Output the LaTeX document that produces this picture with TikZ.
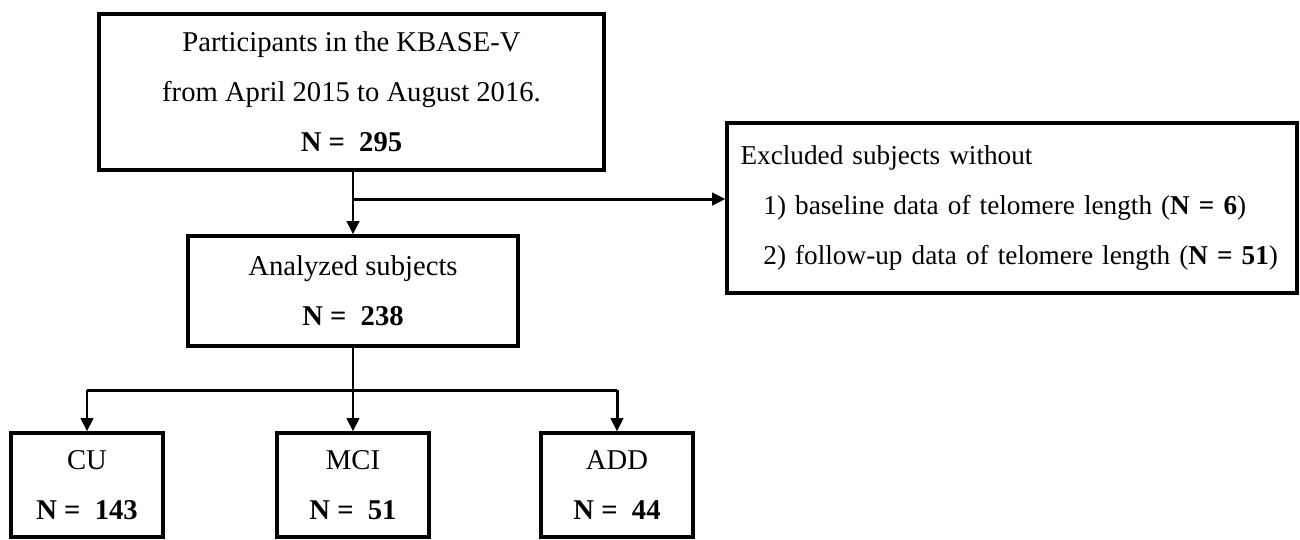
\documentclass[tikz,border=0pt]{standalone}
\usepackage{fontspec}
\setmainfont{Liberation Serif}
\usepackage{tikz}
\usetikzlibrary{arrows.meta,calc,positioning}

\begin{document}
\begin{tikzpicture}[>={Triangle[length=7.5pt,width=7pt]},x=0.02cm,y=-0.02cm,
    box/.style={draw,line width=1.9pt,align=center,inner sep=0pt,
      font=\fontsize{16.3}{28.5}\selectfont},
    link/.style={line width=1.7pt}]
    \path[use as bounding box] (0,0) rectangle (1300,539);
    \clip (0,0) rectangle (1300,539);
    % boxes
    \node[box,minimum width=10.1cm,minimum height=3.12cm] (part) at (351.5,92)
      {Participants in the KBASE-V\\from April 2015 to August 2016.\\\textbf{N =\ \ 295}};
    \node[box,minimum width=6.6cm,minimum height=2.2cm] (anal) at (353,291)
      {Analyzed subjects\\\textbf{N =\ \ 238}};
    \node[box,align=left,text width=10.86cm,inner xsep=0.27cm,minimum height=3.4cm,
      font=\fontsize{15.5}{28.5}\selectfont] (excl) at (1012,208)
      {Excluded subjects without\\
       \hspace*{13pt}1) baseline data of telomere length (\textbf{N = 6})\\
       \hspace*{13pt}2) follow-up data of telomere length (\textbf{N = 51})};
    \node[box,minimum width=3.04cm,minimum height=2.08cm] (cu) at (87,485)
      {CU\\\textbf{N =\ \ 143}};
    \node[box,minimum width=3.04cm,minimum height=2.08cm] (mci) at (353,485)
      {MCI\\\textbf{N =\ \ 51}};
    \node[box,minimum width=3.04cm,minimum height=2.08cm] (add) at (617,485)
      {ADD\\\textbf{N =\ \ 44}};
    % connectors
    \coordinate (split) at (353,199);
    \coordinate (fork) at (353,390);
    \draw[link,->] (part.south -| anal.north) -- (anal.north);
    \draw[link,->] (split) -- (split -| excl.west);
    \draw[link] (anal.south) -- (fork);
    \draw[link] (fork -| cu.north) -- (fork -| add.north);
    \draw[link,->] (fork -| cu.north) -- (cu.north);
    \draw[link,->] (fork) -- (mci.north);
    \draw[link,->] (fork -| add.north) -- (add.north);
\end{tikzpicture}
\end{document}
